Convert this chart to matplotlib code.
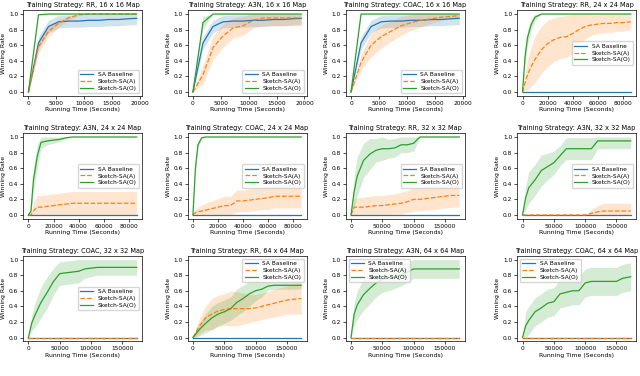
import numpy as np
import matplotlib
matplotlib.use('Agg')
import matplotlib.pyplot as plt

# time axes (seconds)
t16 = [0, 1800, 3600, 5400, 7200, 9000, 10800, 12600, 14400, 16200, 18000, 19400]
t24 = [0, 2000, 4000, 7000, 10000, 15000, 20000, 25000, 30000, 35000, 40000,
       45000, 50000, 55000, 60000, 65000, 70000, 75000, 80000, 86400]
t32 = [0, 5000, 10000, 20000, 30000, 40000, 50000, 60000, 70000, 80000, 90000,
       100000, 110000, 120000, 130000, 140000, 150000, 160000, 172800]

# 16 x 16
base16 = [0, 0.63, 0.84, 0.90, 0.91, 0.91, 0.92, 0.92, 0.93, 0.93, 0.94, 0.945]
base16_sd = [0, 0.08, 0.08, 0.08, 0.08, 0.08, 0.08, 0.08, 0.08, 0.08, 0.08, 0.08]
rr16_a = [0, 0.58, 0.78, 0.88, 0.95, 0.99, 1, 1, 1, 1, 1, 1]
rr16_a_sd = [0, 0.08, 0.07, 0.05, 0.03, 0.01, 0, 0, 0, 0, 0, 0]
rr16_o = [0, 0.99, 1, 1, 1, 1, 1, 1, 1, 1, 1, 1]
rr16_o_sd = [0] * 12
a3n16_a = [0, 0.22, 0.57, 0.72, 0.82, 0.85, 0.92, 0.95, 0.95, 0.95, 0.95, 0.95]
a3n16_a_sd = [0, 0.12, 0.15, 0.15, 0.13, 0.12, 0.1, 0.1, 0.1, 0.1, 0.1, 0.1]
a3n16_o = [0, 0.89, 1, 1, 1, 1, 1, 1, 1, 1, 1, 1]
a3n16_o_sd = [0, 0.08, 0, 0, 0, 0, 0, 0, 0, 0, 0, 0]
coac16_a = [0, 0.38, 0.60, 0.71, 0.78, 0.85, 0.89, 0.92, 0.94, 0.96, 0.97, 0.98]
coac16_a_sd = [0, 0.1, 0.15, 0.15, 0.13, 0.12, 0.1, 0.08, 0.06, 0.04, 0.03, 0.02]
coac16_o = [0, 1, 1, 1, 1, 1, 1, 1, 1, 1, 1, 1]
coac16_o_sd = [0] * 12

# 24 x 24
zero24 = [0] * 20
rr24_a = [0, 0.12, 0.22, 0.33, 0.42, 0.54, 0.62, 0.67, 0.70, 0.71, 0.75, 0.80,
          0.84, 0.86, 0.87, 0.88, 0.88, 0.89, 0.89, 0.90]
rr24_a_sd = [0, 0.1, 0.2, 0.25, 0.3, 0.3, 0.3, 0.28, 0.27, 0.27, 0.25, 0.2,
             0.16, 0.13, 0.12, 0.12, 0.12, 0.11, 0.11, 0.10]
rr24_o = [0, 0.45, 0.70, 0.87, 0.96, 1, 1, 1, 1, 1, 1, 1, 1, 1, 1, 1, 1, 1, 1, 1]
rr24_o_sd = [0, 0.1, 0.1, 0.07, 0.04, 0, 0, 0, 0, 0, 0, 0, 0, 0, 0, 0, 0, 0, 0, 0]
a3n24_a = [0, 0, 0.05, 0.10, 0.10, 0.11, 0.12, 0.13, 0.14, 0.15, 0.15, 0.15,
           0.15, 0.15, 0.15, 0.15, 0.15, 0.15, 0.15, 0.15]
a3n24_a_sd = [0, 0, 0.1, 0.15, 0.15, 0.15, 0.15, 0.15, 0.15, 0.15, 0.15, 0.15,
              0.15, 0.15, 0.15, 0.15, 0.15, 0.15, 0.15, 0.15]
a3n24_o = [0, 0.05, 0.45, 0.75, 0.93, 0.95, 0.96, 0.97, 0.99, 1, 1, 1, 1, 1, 1,
           1, 1, 1, 1, 1]
a3n24_o_sd = [0, 0.05, 0.15, 0.15, 0.08, 0.05, 0.04, 0.03, 0.01, 0, 0, 0, 0, 0,
              0, 0, 0, 0, 0, 0]
coac24_a = [0, 0.03, 0.04, 0.05, 0.06, 0.08, 0.10, 0.12, 0.12, 0.18, 0.18, 0.19,
            0.20, 0.21, 0.22, 0.24, 0.24, 0.24, 0.24, 0.24]
coac24_a_sd = [0, 0.04, 0.06, 0.08, 0.09, 0.1, 0.11, 0.12, 0.12, 0.14, 0.14,
               0.14, 0.14, 0.14, 0.15, 0.15, 0.15, 0.15, 0.15, 0.15]
coac24_o = [0, 0.6, 0.9, 0.99, 1, 1, 1, 1, 1, 1, 1, 1, 1, 1, 1, 1, 1, 1, 1, 1]
coac24_o_sd = [0, 0.05, 0.04, 0.01, 0, 0, 0, 0, 0, 0, 0, 0, 0, 0, 0, 0, 0, 0, 0, 0]

# 32 x 32
zero32 = [0] * 19
rr32_a = [0, 0.1, 0.1, 0.1, 0.11, 0.12, 0.12, 0.13, 0.14, 0.15, 0.17, 0.20,
          0.20, 0.21, 0.22, 0.23, 0.24, 0.25, 0.25]
rr32_a_sd = [0, 0.1, 0.12, 0.13, 0.13, 0.13, 0.13, 0.13, 0.13, 0.14, 0.14, 0.15,
             0.15, 0.15, 0.15, 0.15, 0.15, 0.15, 0.15]
rr32_o = [0, 0.3, 0.5, 0.70, 0.78, 0.83, 0.85, 0.85, 0.86, 0.90, 0.90, 0.92,
          1, 1, 1, 1, 1, 1, 1]
rr32_o_sd = [0, 0.2, 0.25, 0.22, 0.2, 0.15, 0.15, 0.12, 0.12, 0.1, 0.1, 0.1,
             0, 0, 0, 0, 0, 0, 0]
a3n32_a = [0, 0, 0, 0, 0, 0, 0, 0, 0, 0, 0, 0, 0.02, 0.04, 0.05, 0.05, 0.05,
           0.05, 0.05]
a3n32_a_sd = [0, 0, 0, 0, 0, 0, 0, 0, 0, 0, 0, 0, 0.05, 0.08, 0.1, 0.1, 0.1,
              0.1, 0.1]
a3n32_o = [0, 0.22, 0.35, 0.45, 0.57, 0.62, 0.67, 0.76, 0.85, 0.85, 0.85, 0.85,
           0.85, 0.95, 0.95, 0.95, 0.95, 0.95, 0.95]
a3n32_o_sd = [0, 0.15, 0.2, 0.2, 0.2, 0.17, 0.15, 0.13, 0.14, 0.14, 0.14, 0.14,
              0.14, 0.1, 0.1, 0.1, 0.1, 0.1, 0.1]
coac32_o = [0, 0.18, 0.28, 0.45, 0.58, 0.72, 0.82, 0.83, 0.84, 0.85, 0.88, 0.89,
            0.90, 0.90, 0.90, 0.90, 0.90, 0.90, 0.90]
coac32_o_sd = [0, 0.1, 0.15, 0.2, 0.2, 0.17, 0.15, 0.15, 0.15, 0.15, 0.12, 0.11,
               0.1, 0.1, 0.1, 0.1, 0.1, 0.1, 0.1]

# 64 x 64
rr64_a = [0, 0.07, 0.14, 0.25, 0.30, 0.34, 0.36, 0.37, 0.37, 0.37, 0.37, 0.38,
          0.40, 0.42, 0.44, 0.46, 0.48, 0.49, 0.50]
rr64_a_sd = [0, 0.05, 0.1, 0.15, 0.2, 0.2, 0.2, 0.22, 0.22, 0.2, 0.18, 0.17,
             0.17, 0.17, 0.18, 0.18, 0.18, 0.19, 0.2]
rr64_o = [0, 0.05, 0.1, 0.18, 0.25, 0.30, 0.33, 0.37, 0.45, 0.50, 0.56, 0.60,
          0.62, 0.66, 0.67, 0.67, 0.67, 0.67, 0.67]
rr64_o_sd = [0, 0.05, 0.08, 0.12, 0.15, 0.15, 0.15, 0.15, 0.17, 0.17, 0.16, 0.13,
             0.1, 0.05, 0.05, 0.05, 0.05, 0.05, 0.05]
a3n64_o = [0, 0.3, 0.42, 0.55, 0.63, 0.70, 0.75, 0.76, 0.78, 0.80, 0.84, 0.88,
           0.88, 0.88, 0.88, 0.88, 0.88, 0.88, 0.88]
a3n64_o_sd = [0, 0.15, 0.18, 0.2, 0.2, 0.18, 0.17, 0.16, 0.15, 0.14, 0.13, 0.12,
              0.12, 0.12, 0.12, 0.12, 0.12, 0.12, 0.12]
coac64_o = [0, 0.15, 0.22, 0.33, 0.38, 0.44, 0.46, 0.56, 0.58, 0.60, 0.60, 0.70,
            0.72, 0.72, 0.72, 0.72, 0.72, 0.76, 0.78]
coac64_o_sd = [0, 0.18, 0.18, 0.18, 0.18, 0.18, 0.18, 0.18, 0.18, 0.18, 0.18,
               0.18, 0.18, 0.18, 0.18, 0.18, 0.18, 0.18, 0.18]

panels = [
    ('RR, 16 x 16', t16, (base16, base16_sd), (rr16_a, rr16_a_sd), (rr16_o, rr16_o_sd), 'lower right'),
    ('A3N, 16 x 16', t16, (base16, base16_sd), (a3n16_a, a3n16_a_sd), (a3n16_o, a3n16_o_sd), 'lower right'),
    ('COAC, 16 x 16', t16, (base16, base16_sd), (coac16_a, coac16_a_sd), (coac16_o, coac16_o_sd), 'lower right'),
    ('RR, 24 x 24', t24, (zero24, zero24), (rr24_a, rr24_a_sd), (rr24_o, rr24_o_sd), 'center right'),
    ('A3N, 24 x 24', t24, (zero24, zero24), (a3n24_a, a3n24_a_sd), (a3n24_o, a3n24_o_sd), 'center right'),
    ('COAC, 24 x 24', t24, (zero24, zero24), (coac24_a, coac24_a_sd), (coac24_o, coac24_o_sd), 'center right'),
    ('RR, 32 x 32', t32, (zero32, zero32), (rr32_a, rr32_a_sd), (rr32_o, rr32_o_sd), 'center right'),
    ('A3N, 32 x 32', t32, (zero32, zero32), (a3n32_a, a3n32_a_sd), (a3n32_o, a3n32_o_sd), 'center right'),
    ('COAC, 32 x 32', t32, (zero32, zero32), (zero32, zero32), (coac32_o, coac32_o_sd), 'center right'),
    ('RR, 64 x 64', t32, (zero32, zero32), (rr64_a, rr64_a_sd), (rr64_o, rr64_o_sd), 'upper right'),
    ('A3N, 64 x 64', t32, (zero32, zero32), (zero32, zero32), (a3n64_o, a3n64_o_sd), 'upper left'),
    ('COAC, 64 x 64', t32, (zero32, zero32), (zero32, zero32), (coac64_o, coac64_o_sd), 'upper left'),
]

plt.rcParams['font.family'] = 'DejaVu Sans'
fig = plt.figure(figsize=(6.4, 3.76), dpi=100)

lefts = [0.036, 0.293, 0.540, 0.808]
bottoms = [0.745, 0.418, 0.092]
w, h = 0.186, 0.228

labels = ['SA Baseline', 'Sketch-SA(A)', 'Sketch-SA(O)']
colors = ['tab:blue', 'tab:orange', 'tab:green']
styles = ['-', '--', '-']

for k, (name, t, s0, s1, s2, loc) in enumerate(panels):
    r, c = divmod(k, 4)
    ax = fig.add_axes([lefts[c], bottoms[r], w, h])
    t = np.array(t)
    for (m, sd), lab, col, ls in zip([s0, s1, s2], labels, colors, styles):
        m = np.array(m)
        sd = np.array(sd)
        ax.plot(t, m, ls, color=col, lw=0.9, label=lab)
        ax.fill_between(t, np.clip(m - sd, 0, 1), np.clip(m + sd, 0, 1),
                        color=col, alpha=0.2, lw=0)
    ax.set_title('Training Strategy: ' + name + ' Map', fontsize=4.7, pad=2)
    ax.set_xlabel('Running Time (Seconds)', fontsize=4.4, labelpad=1)
    ax.set_ylabel('Winning Rate', fontsize=4.4, labelpad=2)
    ax.set_yticks([0, 0.2, 0.4, 0.6, 0.8, 1.0])
    ax.set_ylim(-0.05, 1.05)
    ax.tick_params(labelsize=4.2, length=2, width=0.5, pad=1.5)
    for sp in ax.spines.values():
        sp.set_linewidth(0.5)
    ax.legend(loc=loc, fontsize=4.2, handlelength=2.2, borderpad=0.4,
              labelspacing=0.3, framealpha=0.8)

fig.savefig('out.png', dpi=100)
